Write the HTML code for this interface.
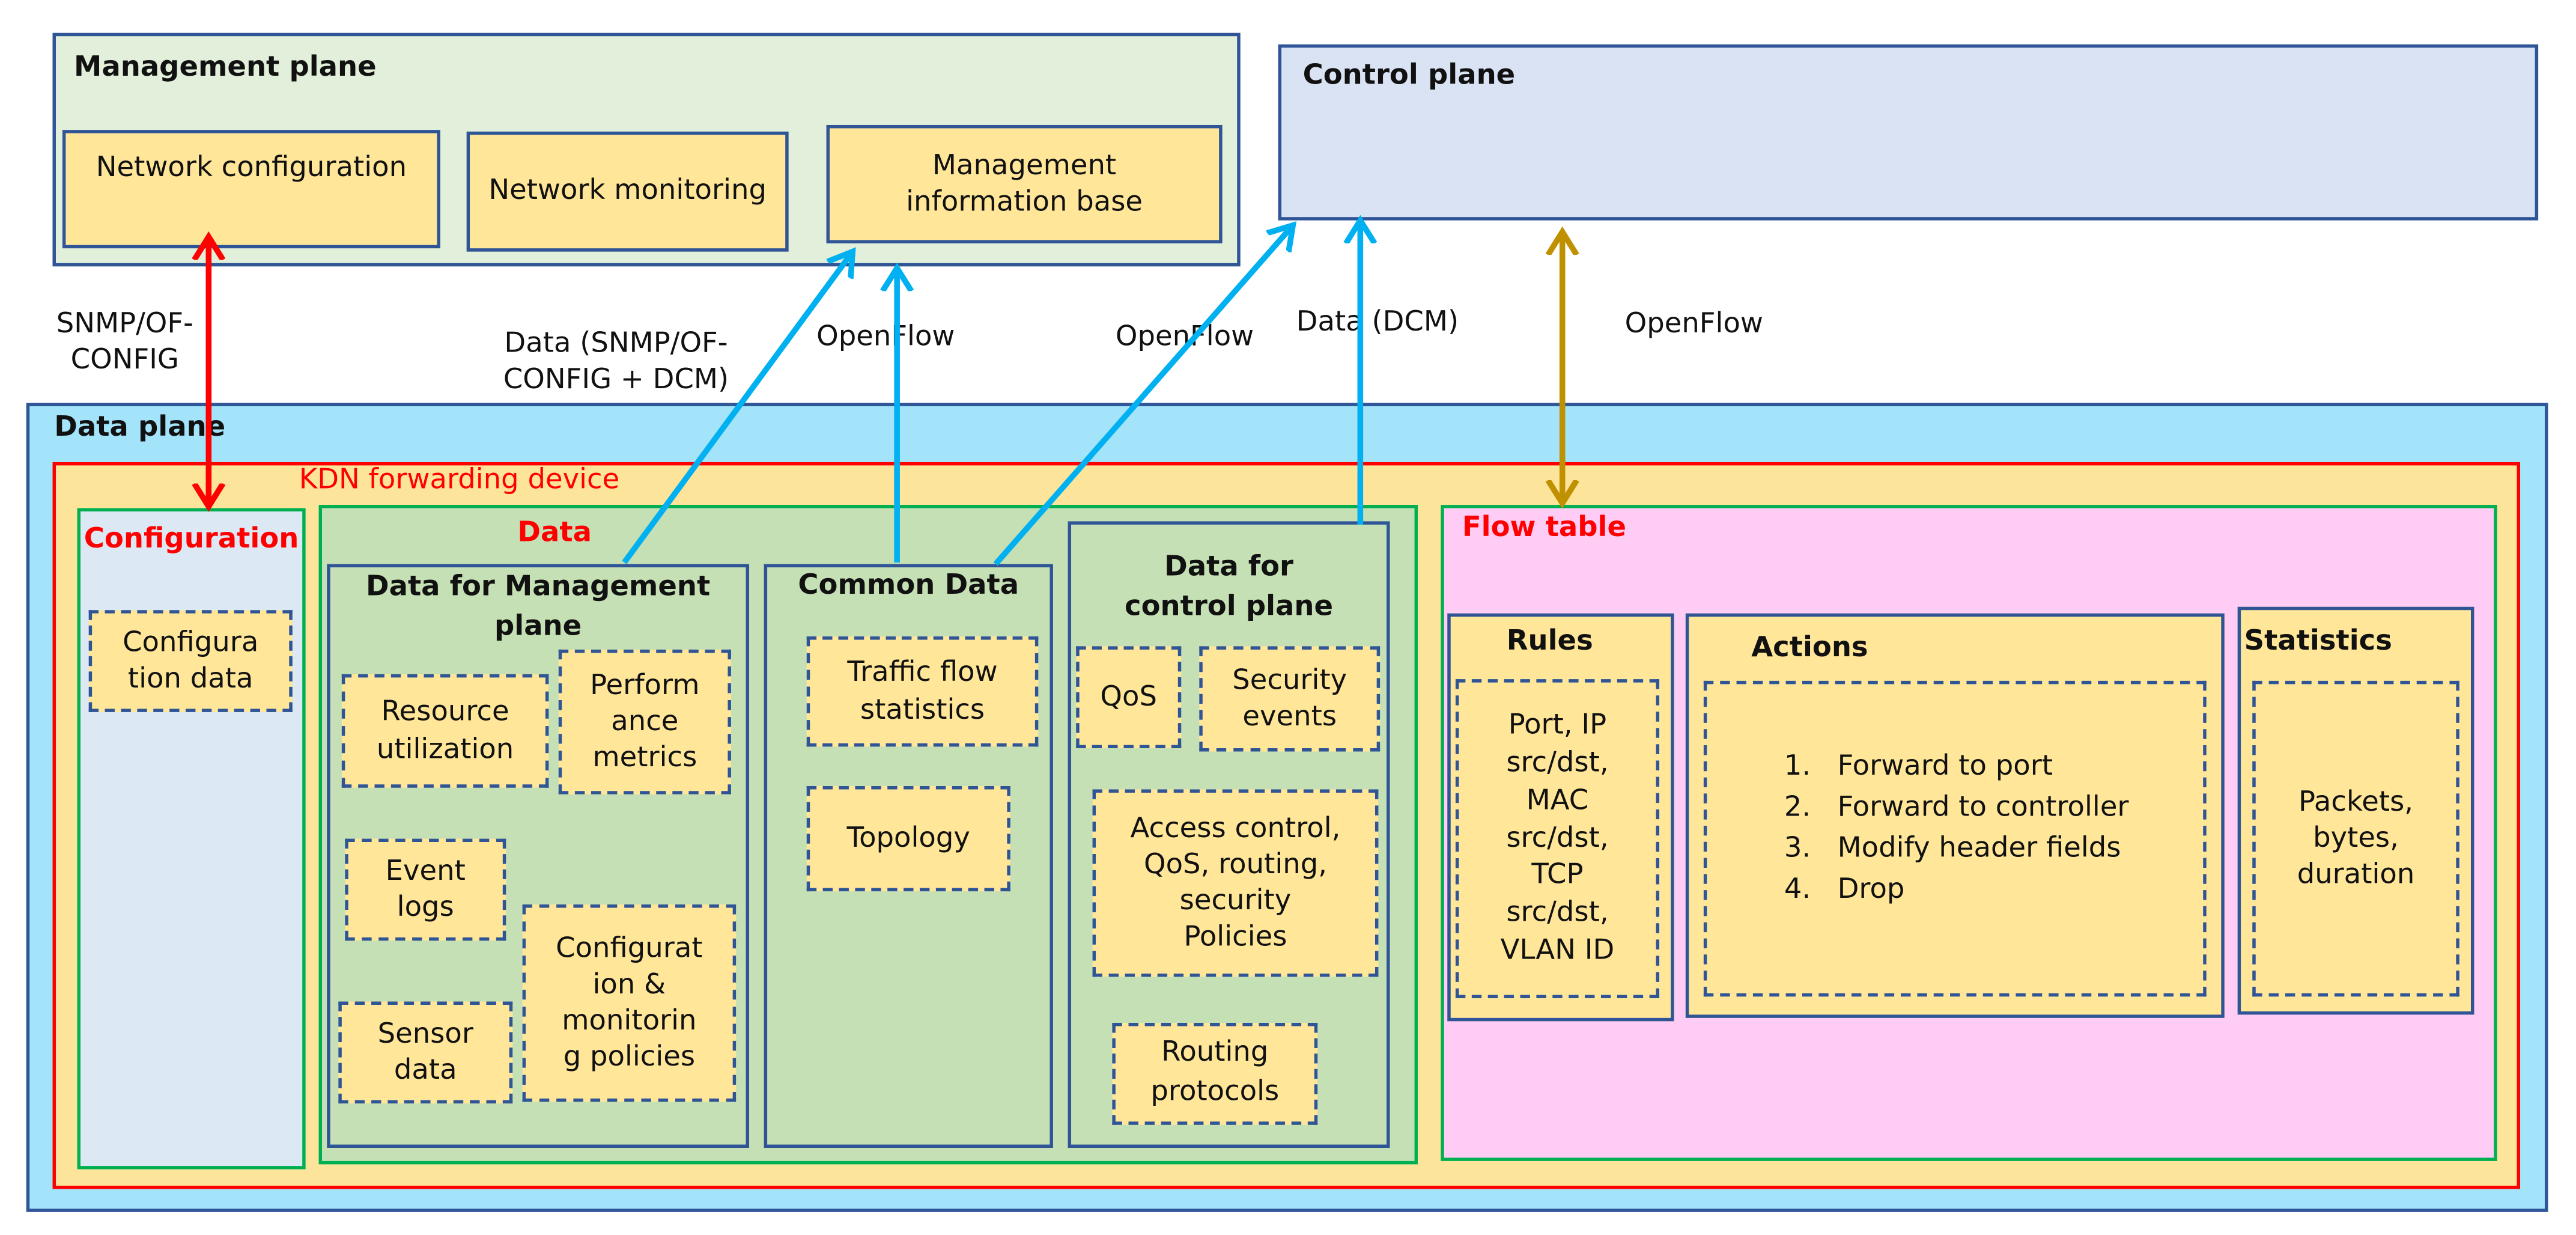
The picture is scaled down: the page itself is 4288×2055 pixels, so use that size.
<!DOCTYPE html>
<html><head><meta charset="utf-8"><style>
html,body{margin:0;padding:0;background:#fff;width:4288px;height:2055px;overflow:hidden}
#s{position:absolute;left:0;top:0;width:1568px;height:751px;transform:scale(2.7347,2.7364);transform-origin:0 0;font-family:"DejaVu Sans","Liberation Sans",sans-serif;font-size:17px;color:#111}
.b{position:absolute;box-sizing:border-box;overflow:hidden}
.bl{border:2px solid #2f5597}
.gr{border:2.5px solid #00b050}
.d{border:2.5px dashed #2f5597;background:#ffe699}
.c{display:flex;align-items:center;justify-content:center;text-align:center;line-height:1.3}
.t{position:absolute;white-space:nowrap}
.h{font-weight:bold}
.r{color:#f00}
</style></head><body><div id="s">
<div class="b bl" style="left:32px;top:20px;width:723px;height:142px;background:#e2efda"></div>
<div class="t h" style="left:45px;top:31px">Management plane</div>
<div class="b bl c" style="left:38px;top:79px;width:230px;height:72px;background:#ffe699;align-items:flex-start;padding-top:10px">Network configuration</div>
<div class="b bl c" style="left:284px;top:80px;width:196px;height:73px;background:#ffe699">Network monitoring</div>
<div class="b bl c" style="left:503px;top:76px;width:241px;height:72px;background:#ffe699">Management<br>information base</div>
<div class="b bl" style="left:778px;top:27px;width:767px;height:107px;background:#dae3f3"></div>
<div class="t h" style="left:793px;top:36px">Control plane</div>
<div class="t c" style="left:20px;top:186px;width:112px">SNMP/OF-<br>CONFIG</div>
<div class="t c" style="left:285px;top:198px;width:180px">Data (SNMP/OF-<br>CONFIG + DCM)</div>
<div class="t" style="left:497px;top:195px">OpenFlow</div>
<div class="t" style="left:679px;top:195px">OpenFlow</div>
<div class="t" style="left:789px;top:186px">Data (DCM)</div>
<div class="t" style="left:989px;top:187px">OpenFlow</div>
<div class="b bl" style="left:16px;top:245px;width:1535px;height:492px;background:#a3e4fb"></div>
<div class="t h" style="left:33px;top:250px">Data plane</div>
<div class="b" style="left:32px;top:281px;width:1502px;height:442px;border:2.5px solid #f00;background:#fde49b"></div>
<div class="t r" style="left:182px;top:282px">KDN forwarding device</div>
<div class="b gr" style="left:47px;top:309px;width:139px;height:402px;background:#dde8f5"></div>
<div class="t h r" style="left:47px;top:318px;width:139px;text-align:center">Configuration</div>
<div class="b d c" style="left:54px;top:371px;width:124px;height:62px">Configura<br>tion data</div>
<div class="b gr" style="left:194px;top:307px;width:669px;height:401px;background:#c5e0b4"></div>
<div class="t h r" style="left:315px;top:314px">Data</div>
<div class="b bl" style="left:199px;top:343px;width:257px;height:355px;background:#c5e0b4"></div>
<div class="b" style="left:201px;top:345px;width:253px;height:45px;text-align:center;line-height:24px"><span class="h">Data for Management<br>plane</span></div>
<div class="b d c" style="left:208px;top:410px;width:126px;height:69px">Resource<br>utilization</div>
<div class="b d c" style="left:340px;top:395px;width:105px;height:88px">Perform<br>ance<br>metrics</div>
<div class="b d c" style="left:210px;top:510px;width:98px;height:62px">Event<br>logs</div>
<div class="b d c" style="left:318px;top:550px;width:130px;height:120px">Configurat<br>ion &amp;<br>monitorin<br>g policies</div>
<div class="b d c" style="left:206px;top:609px;width:106px;height:62px">Sensor<br>data</div>
<div class="b bl" style="left:465px;top:343px;width:176px;height:355px;background:#c5e0b4"></div>
<div class="t h" style="left:465px;top:346px;width:176px;text-align:center">Common Data</div>
<div class="b d c" style="left:491px;top:387px;width:141px;height:67px">Traffic flow<br>statistics</div>
<div class="b d c" style="left:491px;top:478px;width:124px;height:64px">Topology</div>
<div class="b bl" style="left:650px;top:317px;width:196px;height:381px;background:#c5e0b4"></div>
<div class="b" style="left:652px;top:333px;width:192px;height:47px;text-align:center;line-height:24px"><span class="h">Data for<br>control plane</span></div>
<div class="b d c" style="left:655px;top:393px;width:64px;height:62px">QoS</div>
<div class="b d c" style="left:730px;top:393px;width:110px;height:64px">Security<br>events</div>
<div class="b d c" style="left:665px;top:480px;width:174px;height:114px">Access control,<br>QoS, routing,<br>security<br>Policies</div>
<div class="b d c" style="left:677px;top:622px;width:125px;height:62px;line-height:1.4">Routing<br>protocols</div>
<div class="b gr" style="left:877px;top:307px;width:643px;height:399px;background:#ffccf6"></div>
<div class="t h r" style="left:890px;top:311px">Flow table</div>
<div class="b bl" style="left:881px;top:373px;width:138px;height:248px;background:#ffe699"></div>
<div class="t h" style="left:917px;top:380px">Rules</div>
<div class="b d c" style="left:886px;top:413px;width:124px;height:194px;line-height:1.35">Port, IP<br>src/dst,<br>MAC<br>src/dst,<br>TCP<br>src/dst,<br>VLAN ID</div>
<div class="b bl" style="left:1026px;top:373px;width:328px;height:246px;background:#ffe699"></div>
<div class="t h" style="left:1066px;top:384px">Actions</div>
<div class="b d" style="left:1037px;top:414px;width:306px;height:192px"></div>
<div class="t" style="left:1086px;top:454px;line-height:25px">1.&nbsp;&nbsp; Forward to port<br>2.&nbsp;&nbsp; Forward to controller<br>3.&nbsp;&nbsp; Modify header fields<br>4.&nbsp;&nbsp; Drop</div>
<div class="b bl" style="left:1362px;top:369px;width:144px;height:248px;background:#ffe699"></div>
<div class="t h" style="left:1366px;top:380px">Statistics</div>
<div class="b d c" style="left:1371px;top:414px;width:126px;height:192px">Packets,<br>bytes,<br>duration</div>
<svg class="b" style="left:0;top:0" width="1568" height="751" viewBox="0 0 1568 751">
<defs>
<marker id="ar" markerWidth="6" markerHeight="6" refX="4" refY="3" orient="auto-start-reverse" markerUnits="strokeWidth"><path d="M0,0.5 L4,3 L0,5.5" fill="none" stroke="#f00" stroke-width="1"/></marker>
<marker id="ab" markerWidth="6" markerHeight="6" refX="4" refY="3" orient="auto" markerUnits="strokeWidth"><path d="M0,0.5 L4,3 L0,5.5" fill="none" stroke="#00b0f0" stroke-width="1"/></marker>
<marker id="ag" markerWidth="6" markerHeight="6" refX="4" refY="3" orient="auto-start-reverse" markerUnits="strokeWidth"><path d="M0,0.5 L4,3 L0,5.5" fill="none" stroke="#bf9000" stroke-width="1"/></marker>
</defs>
<g stroke-width="3.5" fill="none">
<line x1="127" y1="144" x2="127" y2="308" stroke="#f00" marker-start="url(#ar)" marker-end="url(#ar)"/>
<line x1="380" y1="342" x2="519" y2="153" stroke="#00b0f0" marker-end="url(#ab)"/>
<line x1="546" y1="342" x2="546" y2="163" stroke="#00b0f0" marker-end="url(#ab)"/>
<line x1="606" y1="343" x2="787" y2="137" stroke="#00b0f0" marker-end="url(#ab)"/>
<line x1="828" y1="319" x2="828" y2="134" stroke="#00b0f0" marker-end="url(#ab)"/>
<line x1="951" y1="141" x2="951" y2="306" stroke="#bf9000" marker-start="url(#ag)" marker-end="url(#ag)"/>
</g></svg>
</div></body></html>
